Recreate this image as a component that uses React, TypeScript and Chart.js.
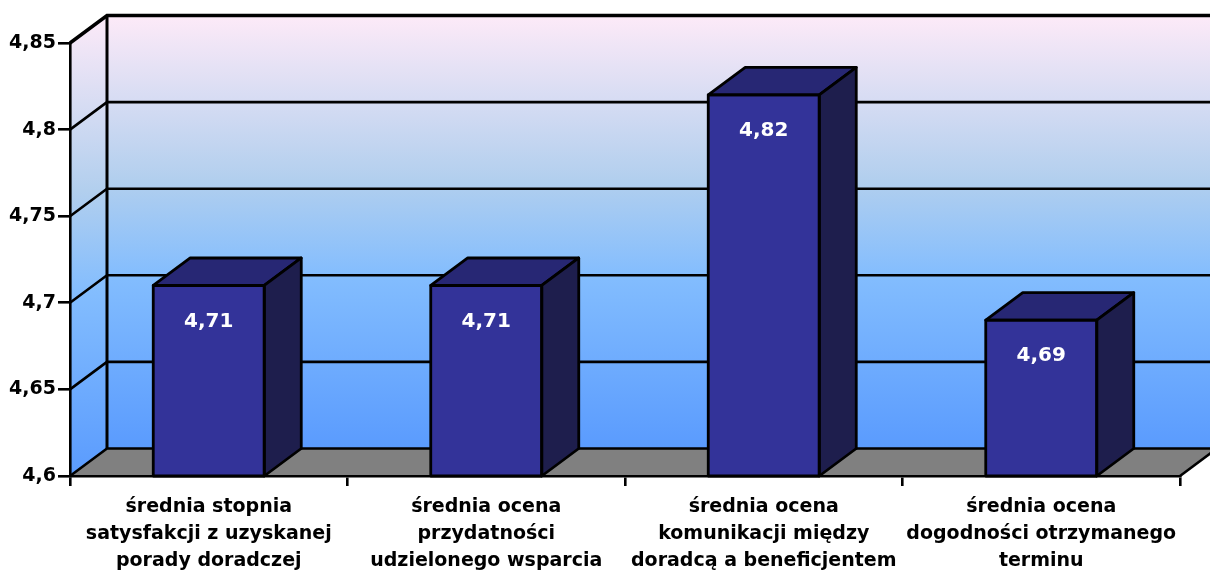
import React, { useEffect, useRef } from "react";
import { Chart, registerables } from "chart.js";

Chart.register(...registerables);

const categories: string[][] = [
  ["średnia stopnia", "satysfakcji z uzyskanej", "porady doradczej"],
  ["średnia ocena", "przydatności", "udzielonego wsparcia"],
  ["średnia ocena", "komunikacji między", "doradcą a beneficjentem"],
  ["średnia ocena", "dogodności otrzymanego", "terminu"],
];
const values: number[] = [4.71, 4.71, 4.82, 4.69];
const valueLabels: string[] = ["4,71", "4,71", "4,82", "4,69"];
const yTicks: number[] = [4.6, 4.65, 4.7, 4.75, 4.8, 4.85];
const yTickLabels: string[] = ["4,6", "4,65", "4,7", "4,75", "4,8", "4,85"];

const FONT = "'DejaVu Sans', Verdana, sans-serif";
const DX = 37;
const DY = -27.5;

const threeD = {
  id: "threeD",
  beforeDraw(chart: any) {
    const { ctx, chartArea } = chart;
    const ys = chart.scales.y;
    const L = chartArea.left;
    const R = chartArea.right;
    const T = ys.getPixelForValue(yTicks[yTicks.length - 1]);
    const B = ys.getPixelForValue(yTicks[0]);
    ctx.save();
    const mk = (y0: number, y1: number) => {
      const g = ctx.createLinearGradient(0, y0, 0, y1);
      g.addColorStop(0, "#fdeaf8");
      g.addColorStop(0.38, "#b2cfee");
      g.addColorStop(0.6, "#83bdfe");
      g.addColorStop(1, "#5a9bfe");
      return g;
    };
    // back wall
    ctx.fillStyle = mk(T + DY, B + DY);
    ctx.fillRect(L + DX, T + DY, R - L + 40, B - T);
    // side wall
    ctx.fillStyle = mk(T + DY, B);
    ctx.beginPath();
    ctx.moveTo(L, B);
    ctx.lineTo(L, T);
    ctx.lineTo(L + DX, T + DY);
    ctx.lineTo(L + DX, B + DY);
    ctx.closePath();
    ctx.fill();
    // floor
    ctx.fillStyle = "#808080";
    ctx.beginPath();
    ctx.moveTo(L, B);
    ctx.lineTo(R, B);
    ctx.lineTo(R + DX, B + DY);
    ctx.lineTo(L + DX, B + DY);
    ctx.closePath();
    ctx.fill();
    // grid lines
    ctx.strokeStyle = "#000";
    yTicks.forEach((v, i) => {
      const yf = ys.getPixelForValue(v);
      ctx.lineWidth = i === yTicks.length - 1 ? 3.5 : 2.6;
      ctx.beginPath();
      ctx.moveTo(L, yf);
      ctx.lineTo(L + DX, yf + DY);
      ctx.lineTo(R + DX + 40, yf + DY);
      ctx.stroke();
    });
    // back wall left edge
    ctx.lineWidth = 3;
    ctx.beginPath();
    ctx.moveTo(L + DX, T + DY);
    ctx.lineTo(L + DX, B + DY);
    ctx.stroke();
    // floor right edge
    ctx.lineWidth = 2.6;
    ctx.beginPath();
    ctx.moveTo(R, B);
    ctx.lineTo(R + DX, B + DY);
    ctx.stroke();
    ctx.restore();
  },
  afterDatasetsDraw(chart: any) {
    const { ctx, chartArea } = chart;
    const meta = chart.getDatasetMeta(0);
    ctx.save();
    ctx.strokeStyle = "#000";
    ctx.lineWidth = 2.8;
    ctx.lineJoin = "round";
    meta.data.forEach((bar: any, i: number) => {
      const p = bar.getProps(["x", "y", "width"], true);
      const l = p.x - p.width / 2;
      const r = p.x + p.width / 2;
      const t = p.y;
      const b = chartArea.bottom;
      // top
      ctx.fillStyle = "#272774";
      ctx.beginPath();
      ctx.moveTo(l, t);
      ctx.lineTo(r, t);
      ctx.lineTo(r + DX, t + DY);
      ctx.lineTo(l + DX, t + DY);
      ctx.closePath();
      ctx.fill();
      ctx.stroke();
      // side
      ctx.fillStyle = "#1e1e4d";
      ctx.beginPath();
      ctx.moveTo(r, t);
      ctx.lineTo(r + DX, t + DY);
      ctx.lineTo(r + DX, b + DY);
      ctx.lineTo(r, b);
      ctx.closePath();
      ctx.fill();
      ctx.stroke();
      // front outline
      ctx.strokeRect(l, t, r - l, b - t);
      // label
      ctx.fillStyle = "#fff";
      ctx.font = `bold 20px ${FONT}`;
      ctx.textAlign = "center";
      ctx.textBaseline = "middle";
      ctx.fillText(valueLabels[i], p.x, t + 36);
    });
    ctx.restore();
  },
};

export default function App() {
  const ref = useRef<HTMLCanvasElement | null>(null);
  useEffect(() => {
    document.body.style.margin = "0";
    const canvas = ref.current!;
    const chart = new Chart(canvas, {
      type: "bar",
      data: {
        labels: categories as any,
        datasets: [
          {
            data: values,
            backgroundColor: "#333399",
            borderColor: "#000",
            borderWidth: 0,
            borderSkipped: false,
            barPercentage: 0.4,
            categoryPercentage: 1,
          },
        ],
      },
      options: {
        responsive: false,
        animation: false,
        devicePixelRatio: 1,
        layout: { padding: { left: 0, right: 30, top: 43, bottom: 0 } },
        plugins: { legend: { display: false }, tooltip: { enabled: false } },
        scales: {
          x: {
            grid: {
              offset: true,
              drawOnChartArea: false,
              drawTicks: true,
              tickLength: 10,
              color: "#000",
              lineWidth: 2.6,
            },
            border: { display: true, color: "#000", width: 2.6 },
            ticks: {
              color: "#000",
              font: { family: FONT, size: 19, weight: "bold", lineHeight: 1.42 },
              padding: 8,
              maxRotation: 0,
              autoSkip: false,
            },
            afterFit(scale: any) {
              scale.height = 96;
            },
          },
          y: {
            min: 4.6,
            max: 4.85,
            afterBuildTicks(scale: any) {
              scale.ticks = yTicks.map((v) => ({ value: v }));
            },
            grid: {
              drawOnChartArea: false,
              drawTicks: true,
              tickLength: 12,
              color: "#000",
              lineWidth: 2.6,
            },
            border: { display: true, color: "#000", width: 2.6 },
            ticks: {
              color: "#000",
              font: { family: FONT, size: 19, weight: "bold" },
              padding: 2,
              callback: (_v: any, i: number) => yTickLabels[i],
            },
            afterFit(scale: any) {
              scale.width = 70;
            },
          },
        },
      },
      plugins: [threeD],
    });
    return () => chart.destroy();
  }, []);
  return (
    <canvas
      ref={ref}
      width={1210}
      height={572}
      style={{ display: "block", width: 1210, height: 572 }}
    />
  );
}
